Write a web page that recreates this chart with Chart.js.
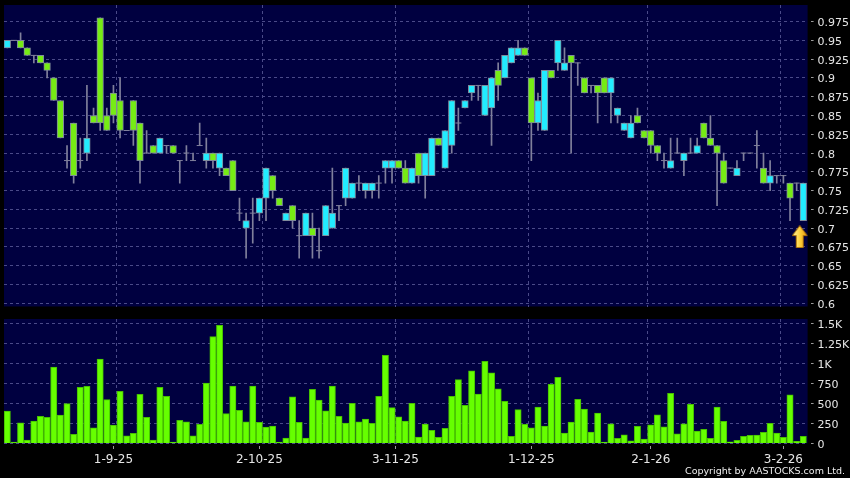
<!DOCTYPE html>
<html>
<head>
<meta charset="utf-8">
<title>Candlestick chart</title>
<script src="https://cdn.jsdelivr.net/npm/chart.js@4"></script>
<style>
  html, body { margin: 0; padding: 0; background: #000; overflow: hidden; }
  .wrap { position: relative; width: 850px; height: 478px; }
  canvas { position: absolute; left: 0; }
  #priceChart { top: 0; }
  #volumeChart { top: 312px; }
  .copyright {
    position: absolute; right: 5px; top: 465px;
    color: #eee; font: 9.5px "DejaVu Sans", sans-serif; white-space: nowrap;
  }
</style>
</head>
<body>
<div class="wrap">
  <canvas id="priceChart" width="850" height="312"></canvas>
  <canvas id="volumeChart" width="850" height="166"></canvas>
  <div class="copyright">Copyright by AASTOCKS.com Ltd.</div>
</div>
<script>
const opens = [
  .94, .95, .95, .94, .93, .93, .92, .90, .87, .79,
  .84, .79, .80, .85, .98, .85, .88, .87, .83, .87,
  .84, .80, .81, .80, .81, .81, .79, .80, .79, .81,
  .79, .80, .78, .78, .79, .72, .70, .72, .72, .74,
  .77, .74, .71, .73, .69, .69, .70, .67, .69, .70,
  .73, .74, .74, .76, .75, .75, .76, .78, .78, .79,
  .78, .76, .80, .77, .77, .82, .78, .81, .84, .86,
  .88, .89, .85, .86, .91, .90, .92, .93, .94, .90,
  .84, .83, .91, .92, .91, .93, .92, .90, .89, .89,
  .90, .88, .85, .83, .82, .85, .83, .83, .81, .79,
  .78, .80, .79, .80, .80, .84, .82, .81, .79, .78,
  .77, .80, .80, .81, .78, .76, .77, .77, .76, .76,
  .71
]
const closes = [
  .95, .95, .94, .93, .93, .92, .91, .87, .82, .79,
  .77, .79, .82, .84, .84, .83, .85, .83, .83, .83,
  .79, .80, .80, .82, .81, .80, .79, .80, .79, .81,
  .80, .79, .80, .77, .75, .72, .71, .72, .74, .78,
  .75, .73, .72, .71, .69, .72, .69, .67, .73, .72,
  .73, .78, .76, .76, .76, .76, .76, .79, .79, .78,
  .76, .78, .77, .80, .82, .81, .83, .87, .84, .87,
  .89, .89, .89, .90, .89, .93, .94, .94, .93, .84,
  .87, .91, .90, .95, .92, .92, .92, .88, .89, .88,
  .88, .90, .86, .84, .84, .84, .82, .81, .80, .79,
  .79, .80, .80, .80, .81, .82, .81, .80, .76, .78,
  .78, .80, .80, .81, .76, .77, .77, .77, .74, .76,
  .76
]
const highs = [
  .95, .95, .96, .94, .93, .93, .92, .90, .87, .81,
  .84, .82, .89, .86, .98, .86, .89, .90, .83, .87,
  .84, .83, .81, .82, .81, .81, .79, .81, .80, .84,
  .82, .80, .80, .78, .79, .74, .72, .74, .74, .78,
  .77, .74, .72, .73, .71, .72, .72, .70, .73, .78,
  .73, .78, .76, .77, .76, .76, .77, .79, .79, .79,
  .79, .78, .80, .80, .82, .82, .83, .87, .86, .87,
  .89, .89, .89, .90, .92, .93, .94, .95, .94, .90,
  .88, .91, .91, .95, .94, .93, .92, .90, .89, .89,
  .90, .90, .86, .84, .85, .86, .83, .83, .81, .80,
  .82, .82, .80, .82, .82, .84, .85, .81, .80, .78,
  .79, .80, .80, .83, .80, .79, .77, .77, .76, .76,
  .76
]
const lows = [
  .94, .95, .94, .93, .92, .92, .90, .87, .82, .78,
  .76, .78, .79, .84, .83, .83, .84, .82, .83, .81,
  .76, .80, .80, .80, .80, .80, .76, .79, .79, .81,
  .78, .78, .77, .77, .75, .71, .66, .68, .71, .71,
  .74, .73, .71, .70, .66, .69, .66, .66, .69, .70,
  .71, .73, .74, .75, .74, .74, .74, .76, .76, .78,
  .76, .76, .76, .74, .77, .81, .78, .80, .83, .86,
  .87, .87, .85, .81, .87, .90, .92, .93, .93, .79,
  .83, .83, .90, .91, .91, .80, .89, .88, .88, .84,
  .88, .84, .84, .83, .82, .84, .82, .80, .79, .78,
  .78, .80, .77, .80, .80, .82, .81, .73, .76, .78,
  .77, .79, .80, .78, .76, .75, .76, .76, .71, .75,
  .71
]
const volumes = [
  404, 17, 258, 42, 279, 337, 325, 954, 354, 496,
  112, 700, 712, 196, 1054, 546, 229, 650, 96, 125,
  612, 325, 42, 700, 587, 17, 287, 271, 96, 237,
  754, 1333, 1475, 371, 717, 412, 271, 717, 262, 204,
  217, 17, 67, 583, 262, 67, 675, 542, 408, 717,
  337, 254, 500, 271, 304, 250, 587, 1100, 446, 333,
  279, 500, 79, 242, 162, 75, 187, 587, 796, 475,
  908, 617, 1025, 883, 683, 525, 87, 421, 237, 196,
  454, 217, 737, 825, 129, 267, 550, 429, 142, 379,
  17, 246, 62, 108, 33, 212, 54, 233, 358, 208,
  625, 121, 246, 487, 154, 175, 62, 454, 275, 21,
  37, 87, 100, 104, 137, 250, 129, 75, 608, 25,
  87
]

const priceTicks = [0.6, 0.625, 0.65, 0.675, 0.7, 0.725, 0.75, 0.775, 0.8, 0.825, 0.85, 0.875, 0.9, 0.925, 0.95, 0.975]
const volumeTicks = [0, 250, 500, 750, 1000, 1250, 1500]
const volumeLabels = ['0', '250', '500', '750', '1K', '1.25K', '1.5K']
const dateLabels = ['1-9-25', '2-10-25', '3-11-25', '1-12-25', '2-1-26', '3-2-26']
const dateTickSlots = [16, 38, 58.5, 79, 97, 117]
const gridSlots = [16.5, 38.5, 58.5, 78.5, 96.5, 116.5]
const arrowSpot = { x: 119.46, y: 0.6888 }

const GREEN = '#76ec14'
const CYAN = '#22ecff'
const BODY_EDGE = '#7f8a9a'
const WICK = '#80809c'
const NAVY = '#000040'
const GRID = '#4a4a88'
const TEXT = '#e6e6e6'
const FAMILY = '"DejaVu Sans", sans-serif'

const navyPanel = {
  id: 'navyPanel',
  beforeDraw(chart) {
    const a = chart.chartArea
    chart.ctx.fillStyle = NAVY
    chart.ctx.fillRect(a.left, a.top, a.right - a.left, a.bottom - a.top)
  }
}

const makeArrow = () => {
  const c = document.createElement('canvas')
  c.width = 16
  c.height = 23
  const g = c.getContext('2d')
  const fill = g.createLinearGradient(1, 0, 15, 0)
  fill.addColorStop(0, '#fff2a0')
  fill.addColorStop(0.5, '#ffd23c')
  fill.addColorStop(1, '#e89a10')
  g.fillStyle = fill
  g.strokeStyle = '#a86c08'
  g.beginPath()
  g.moveTo(8, 0.5)
  g.lineTo(15.5, 10.5)
  g.lineTo(11.5, 10.5)
  g.lineTo(11.5, 22.5)
  g.lineTo(4.5, 22.5)
  g.lineTo(4.5, 10.5)
  g.lineTo(0.5, 10.5)
  g.closePath()
  g.fill()
  g.stroke()
  return c
}

// keep the plot area where we put it, labels may hang over
const noMargins = (scale) => {
  scale.paddingLeft = 0
  scale.paddingRight = 0
  scale.paddingTop = 0
  scale.paddingBottom = 0
}

const slotAxis = (slots, height) => ({
  type: 'linear',
  offset: false,
  min: -0.5,
  max: 120.65,
  afterBuildTicks: (scale) => { scale.ticks = slots.map((value) => ({ value })) },
  afterFit: (scale) => {
    scale.height = height
    noMargins(scale)
  }
})

// the blank first line nudges each label down onto its grid line
const rightAxis = (ticks, format, min, max) => ({
  position: 'right',
  min,
  max,
  afterBuildTicks: (scale) => { scale.ticks = ticks.map((value) => ({ value })) },
  afterFit: (scale) => {
    scale.width = 42.4
    noMargins(scale)
  },
  border: { display: false, dash: [3, 3] },
  grid: { color: GRID, tickColor: '#9a9a9a', tickLength: 6, tickBorderDash: [3, 3], tickBorderDashOffset: 3 },
  ticks: {
    color: TEXT,
    font: { family: FAMILY, size: 11, lineHeight: 0.3 },
    padding: 4,
    autoSkip: false,
    callback: (v) => ['', format(v)]
  }
})

const slots = opens.map((_, i) => i)
const isDoji = (i) => opens[i] === closes[i]

new Chart(document.getElementById('priceChart'), {
  type: 'bar',
  data: {
    datasets: [
      {
        type: 'bar',
        order: 3,
        data: slots.map((i) => ({ x: i, y: [lows[i], highs[i]] })),
        backgroundColor: WICK,
        borderWidth: 0,
        barThickness: 1,
        grouped: false
      },
      {
        type: 'scatter',
        order: 2,
        data: slots.filter(isDoji).map((i) => ({ x: i, y: opens[i] })),
        pointStyle: 'line',
        pointRadius: 3,
        pointHoverRadius: 3,
        borderColor: WICK,
        borderWidth: 1
      },
      {
        type: 'bar',
        order: 1,
        data: slots.filter((i) => !isDoji(i)).map((i) => ({ x: i, y: [opens[i], closes[i]] })),
        backgroundColor: slots.filter((i) => !isDoji(i)).map((i) => (closes[i] > opens[i] ? CYAN : GREEN)),
        borderColor: BODY_EDGE,
        borderWidth: 1,
        borderSkipped: false,
        barThickness: 6.6,
        grouped: false
      },
      {
        type: 'scatter',
        order: 0,
        data: [arrowSpot],
        pointStyle: makeArrow(),
        pointRadius: 1,
        pointHoverRadius: 1,
        borderWidth: 0
      }
    ]
  },
  options: {
    responsive: false,
    animation: false,
    layout: { padding: { top: 5, bottom: 5.5, left: 4 } },
    plugins: { legend: { display: false }, tooltip: { enabled: false } },
    scales: {
      x: {
        ...slotAxis(gridSlots, 0),
        border: { display: false, dash: [3, 3] },
        grid: { offset: false, color: GRID, drawTicks: false },
        ticks: { display: false }
      },
      y: rightAxis(priceTicks, (v) => String(v), 0.5957, 0.9971)
    }
  },
  plugins: [navyPanel]
})

new Chart(document.getElementById('volumeChart'), {
  type: 'bar',
  data: {
    datasets: [{
      xAxisID: 'x',
      data: slots.map((i) => ({ x: i, y: volumes[i] })),
      backgroundColor: '#66ff00',
      borderColor: '#46c000',
      borderWidth: 1,
      barThickness: 6.3
    }]
  },
  options: {
    responsive: false,
    animation: false,
    layout: { padding: { top: 7, left: 4 } },
    plugins: { legend: { display: false }, tooltip: { enabled: false } },
    scales: {
      x: {
        ...slotAxis(gridSlots, 0),
        border: { display: false, dash: [3, 3] },
        grid: { offset: false, color: GRID, drawTicks: false },
        ticks: { display: false }
      },
      dates: {
        ...slotAxis(dateTickSlots, 34.6),
        position: 'bottom',
        border: { display: false },
        grid: { offset: false, drawOnChartArea: false, tickColor: '#9a9a9a', tickLength: 6, tickBorderDash: [3, 3], tickBorderDashOffset: 3 },
        ticks: {
          color: TEXT,
          font: { family: FAMILY, size: 12 },
          padding: 3,
          autoSkip: false,
          maxRotation: 0,
          callback: (v) => dateLabels[dateTickSlots.indexOf(v)]
        }
      },
      y: rightAxis(volumeTicks, (v) => volumeLabels[volumeTicks.indexOf(v)], 0, 1554)
    }
  },
  plugins: [navyPanel]
})
</script>
</body>
</html>
